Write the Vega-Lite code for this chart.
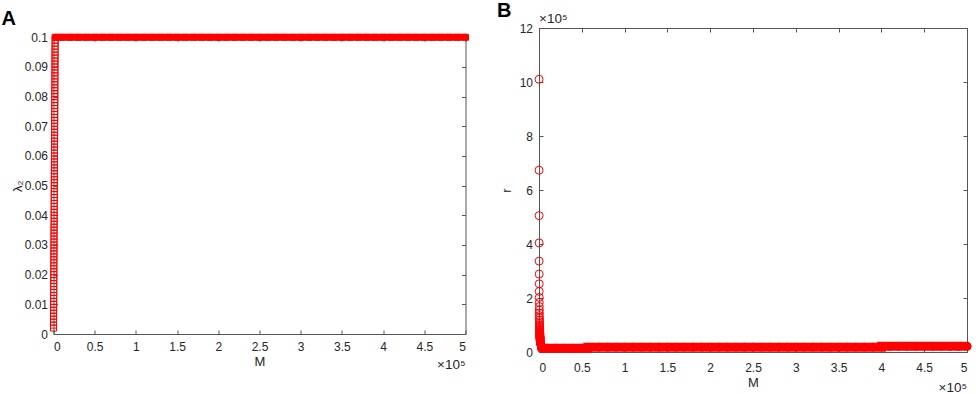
{
"$schema": "https://vega.github.io/schema/vega-lite/v6.json",
"background": "white",
"padding": {"left": 1.5, "top": 1, "right": 0, "bottom": 0},
"spacing": 17.5,
"datasets": {
"lv": [{"M":20,"l":0.002},{"M":40,"l":0.003},{"M":60,"l":0.004},{"M":80,"l":0.005},{"M":100,"l":0.006},{"M":120,"l":0.007},{"M":140,"l":0.008},{"M":160,"l":0.009},{"M":180,"l":0.010},{"M":200,"l":0.011},{"M":220,"l":0.012},{"M":240,"l":0.013},{"M":260,"l":0.014},{"M":280,"l":0.015},{"M":300,"l":0.016},{"M":320,"l":0.017},{"M":340,"l":0.018},{"M":360,"l":0.019},{"M":380,"l":0.020},{"M":400,"l":0.021},{"M":420,"l":0.022},{"M":440,"l":0.023},{"M":460,"l":0.024},{"M":480,"l":0.025},{"M":500,"l":0.026},{"M":520,"l":0.027},{"M":540,"l":0.028},{"M":560,"l":0.029},{"M":580,"l":0.030},{"M":600,"l":0.031},{"M":620,"l":0.032},{"M":640,"l":0.033},{"M":660,"l":0.034},{"M":680,"l":0.035},{"M":700,"l":0.036},{"M":720,"l":0.037},{"M":740,"l":0.038},{"M":760,"l":0.039},{"M":780,"l":0.040},{"M":800,"l":0.041},{"M":820,"l":0.042},{"M":840,"l":0.043},{"M":860,"l":0.044},{"M":880,"l":0.045},{"M":900,"l":0.046},{"M":920,"l":0.047},{"M":940,"l":0.048},{"M":960,"l":0.049},{"M":980,"l":0.050},{"M":1000,"l":0.051},{"M":1020,"l":0.052},{"M":1040,"l":0.053},{"M":1060,"l":0.054},{"M":1080,"l":0.055},{"M":1100,"l":0.056},{"M":1120,"l":0.057},{"M":1140,"l":0.058},{"M":1160,"l":0.059},{"M":1180,"l":0.060},{"M":1200,"l":0.061},{"M":1220,"l":0.062},{"M":1240,"l":0.063},{"M":1260,"l":0.064},{"M":1280,"l":0.065},{"M":1300,"l":0.066},{"M":1320,"l":0.067},{"M":1340,"l":0.068},{"M":1360,"l":0.069},{"M":1380,"l":0.070},{"M":1400,"l":0.071},{"M":1420,"l":0.072},{"M":1440,"l":0.073},{"M":1460,"l":0.074},{"M":1480,"l":0.075},{"M":1500,"l":0.076},{"M":1520,"l":0.077},{"M":1540,"l":0.078},{"M":1560,"l":0.079},{"M":1580,"l":0.080},{"M":1600,"l":0.081},{"M":1620,"l":0.082},{"M":1640,"l":0.083},{"M":1660,"l":0.084},{"M":1680,"l":0.085},{"M":1700,"l":0.086},{"M":1720,"l":0.087},{"M":1740,"l":0.088},{"M":1760,"l":0.089},{"M":1780,"l":0.090},{"M":1800,"l":0.091},{"M":1820,"l":0.092},{"M":1840,"l":0.093},{"M":1860,"l":0.094},{"M":1880,"l":0.095},{"M":1900,"l":0.096},{"M":1920,"l":0.097},{"M":1940,"l":0.098},{"M":1960,"l":0.099}],
"lh": [{"M":2000,"l":0.1},{"M":10000,"l":0.1},{"M":20000,"l":0.1},{"M":30000,"l":0.1},{"M":40000,"l":0.1},{"M":50000,"l":0.1},{"M":60000,"l":0.1},{"M":70000,"l":0.1},{"M":80000,"l":0.1},{"M":90000,"l":0.1},{"M":100000,"l":0.1},{"M":110000,"l":0.1},{"M":120000,"l":0.1},{"M":130000,"l":0.1},{"M":140000,"l":0.1},{"M":150000,"l":0.1},{"M":160000,"l":0.1},{"M":170000,"l":0.1},{"M":180000,"l":0.1},{"M":190000,"l":0.1},{"M":200000,"l":0.1},{"M":210000,"l":0.1},{"M":220000,"l":0.1},{"M":230000,"l":0.1},{"M":240000,"l":0.1},{"M":250000,"l":0.1},{"M":260000,"l":0.1},{"M":270000,"l":0.1},{"M":280000,"l":0.1},{"M":290000,"l":0.1},{"M":300000,"l":0.1},{"M":310000,"l":0.1},{"M":320000,"l":0.1},{"M":330000,"l":0.1},{"M":340000,"l":0.1},{"M":350000,"l":0.1},{"M":360000,"l":0.1},{"M":370000,"l":0.1},{"M":380000,"l":0.1},{"M":390000,"l":0.1},{"M":400000,"l":0.1},{"M":410000,"l":0.1},{"M":420000,"l":0.1},{"M":430000,"l":0.1},{"M":440000,"l":0.1},{"M":450000,"l":0.1},{"M":460000,"l":0.1},{"M":470000,"l":0.1},{"M":480000,"l":0.1},{"M":490000,"l":0.1},{"M":500000,"l":0.1}],
"rv": [{"M":60,"r":1010000},{"M":90,"r":673333},{"M":120,"r":505000},{"M":150,"r":404000},{"M":180,"r":336667},{"M":210,"r":288571},{"M":240,"r":252500},{"M":270,"r":224444},{"M":300,"r":202000},{"M":330,"r":183636},{"M":360,"r":168333},{"M":390,"r":155385},{"M":420,"r":144286},{"M":450,"r":134667},{"M":480,"r":126250},{"M":510,"r":118824},{"M":540,"r":112222},{"M":570,"r":106316},{"M":600,"r":101000},{"M":630,"r":96190},{"M":660,"r":91818},{"M":690,"r":87826},{"M":720,"r":84167},{"M":750,"r":80800},{"M":780,"r":77692},{"M":810,"r":74815},{"M":840,"r":72143},{"M":870,"r":69655},{"M":900,"r":67333},{"M":930,"r":65161},{"M":960,"r":63125},{"M":990,"r":61212},{"M":1020,"r":59412},{"M":1050,"r":57714},{"M":1080,"r":56111},{"M":1110,"r":54595},{"M":1140,"r":53158},{"M":1170,"r":51795},{"M":1200,"r":50500},{"M":1260,"r":48095},{"M":1320,"r":45909},{"M":1380,"r":43913},{"M":1440,"r":42083},{"M":1500,"r":40400},{"M":1650,"r":36727},{"M":1800,"r":33667},{"M":1950,"r":31077},{"M":2100,"r":28857},{"M":2250,"r":26933},{"M":2400,"r":25250},{"M":2700,"r":22444},{"M":3000,"r":20200}],
"rh": [{"M":3000,"r":14000},{"M":10000,"r":14000},{"M":20000,"r":14000},{"M":30000,"r":14000},{"M":40000,"r":14000},{"M":50000,"r":14000},{"M":57000,"r":18000},{"M":60000,"r":18000},{"M":70000,"r":18000},{"M":80000,"r":18000},{"M":90000,"r":18000},{"M":100000,"r":18000},{"M":110000,"r":18000},{"M":120000,"r":18000},{"M":130000,"r":18000},{"M":140000,"r":18000},{"M":150000,"r":18000},{"M":160000,"r":18000},{"M":170000,"r":18000},{"M":180000,"r":18000},{"M":190000,"r":18000},{"M":200000,"r":18000},{"M":210000,"r":18000},{"M":220000,"r":18000},{"M":230000,"r":18000},{"M":240000,"r":18000},{"M":250000,"r":18000},{"M":260000,"r":18000},{"M":270000,"r":18000},{"M":280000,"r":18000},{"M":290000,"r":18000},{"M":300000,"r":18000},{"M":310000,"r":18000},{"M":320000,"r":18000},{"M":330000,"r":18000},{"M":340000,"r":18000},{"M":350000,"r":18000},{"M":360000,"r":18000},{"M":370000,"r":18000},{"M":380000,"r":18000},{"M":390000,"r":18000},{"M":400000,"r":21000},{"M":410000,"r":21000},{"M":420000,"r":21000},{"M":430000,"r":21000},{"M":440000,"r":21000},{"M":450000,"r":21000},{"M":460000,"r":21000},{"M":470000,"r":21000},{"M":480000,"r":21000},{"M":490000,"r":21000},{"M":500000,"r":21000}]
},
"config": {
"view": {"stroke": null},
"font": "Liberation Sans",
"axis": {"grid": false, "domainColor": "#555555", "tickColor": "#555555", "labelColor": "#262626", "titleColor": "#262626", "labelFontSize": 12, "titleFontSize": 13, "titleFontWeight": "normal", "tickSize": -4, "labelPadding": 10},
"title": {"fontSize": 20, "fontWeight": "bold", "anchor": "start", "frame": "group", "color": "#000000"}
},
"hconcat": [
{
"width": 412, "height": 306,
"title": {"text": "A", "dx": -52, "offset": -5.3},
"resolve": {"axis": {"x": "independent", "y": "independent"}},
"layer": [
{"data": {"name": "lv"},
 "mark": {"type": "point", "shape": "square", "size": 36, "filled": false, "color": "#ff0000", "strokeWidth": 1, "opacity": 1},
 "encoding": {
  "x": {"field": "M", "type": "quantitative", "scale": {"domain": [0, 500000], "nice": false}, "axis": {"orient": "bottom", "values": [0,50000,100000,150000,200000,250000,300000,350000,400000,450000,500000], "labelExpr": "datum.value/100000", "title": "M", "labelPadding": 11, "titlePadding": 3}},
  "y": {"field": "l", "type": "quantitative", "scale": {"domain": [0, 0.1], "nice": false, "range": [306, 9.3]}, "axis": {"orient": "left", "values": [0,0.01,0.02,0.03,0.04,0.05,0.06,0.07,0.08,0.09,0.1], "format": "~g", "title": "λ₂", "titlePadding": 0}}
 }},
{"data": {"name": "lh"},
 "mark": {"type": "line", "color": "#ff0000", "strokeWidth": 7, "strokeCap": "round"},
 "encoding": {"x": {"field": "M", "type": "quantitative", "axis": null}, "y": {"field": "l", "type": "quantitative", "axis": null}}},
{"data": {"name": "lh"},
 "mark": {"type": "point", "shape": "square", "size": 36, "filled": false, "color": "#ff0000", "strokeWidth": 1, "opacity": 1},
 "encoding": {
  "x": {"field": "M", "type": "quantitative", "axis": {"orient": "top", "labels": false, "title": null, "offset": -9.3, "minExtent": 0, "maxExtent": 0, "values": [0,50000,100000,150000,200000,250000,300000,350000,400000,450000,500000]}},
  "y": {"field": "l", "type": "quantitative", "axis": {"orient": "right", "labels": false, "title": null, "minExtent": 0, "maxExtent": 0, "values": [0,0.01,0.02,0.03,0.04,0.05,0.06,0.07,0.08,0.09,0.1]}}
 }},
{"data": {"values": [{}]},
 "mark": {"type": "text", "text": "×10⁵", "align": "right", "baseline": "middle", "dy": 31, "fontSize": 13.5, "color": "#262626"},
 "encoding": {"x": {"datum": 500000, "type": "quantitative", "axis": null}, "y": {"datum": 0, "type": "quantitative", "axis": null}}}
]
},
{
"width": 428, "height": 324,
"title": {"text": "B", "dx": -42, "offset": -9.3},
"resolve": {"axis": {"x": "independent", "y": "independent"}},
"layer": [
{"data": {"name": "rv"},
 "mark": {"type": "point", "shape": "circle", "size": 64, "filled": false, "color": "#ff0000", "strokeWidth": 1, "opacity": 1},
 "encoding": {
  "x": {"field": "M", "type": "quantitative", "scale": {"domain": [0, 500000], "nice": false}, "axis": {"orient": "bottom", "values": [0,50000,100000,150000,200000,250000,300000,350000,400000,450000,500000], "labelExpr": "datum.value/100000", "title": "M", "labelPadding": 14, "titlePadding": 3}},
  "y": {"field": "r", "type": "quantitative", "scale": {"domain": [0, 1200000], "nice": false}, "axis": {"orient": "left", "values": [0,200000,400000,600000,800000,1000000,1200000], "labelExpr": "datum.value/100000", "title": "r", "titlePadding": 6, "labelPadding": 10.5}}
 }},
{"data": {"name": "rh"},
 "mark": {"type": "line", "color": "#ff0000", "strokeWidth": 9, "strokeCap": "round", "interpolate": "step-after"},
 "encoding": {"x": {"field": "M", "type": "quantitative", "axis": null}, "y": {"field": "r", "type": "quantitative", "axis": null}}},
{"data": {"name": "rh"},
 "mark": {"type": "point", "shape": "circle", "size": 64, "filled": false, "color": "#ff0000", "strokeWidth": 1, "opacity": 1},
 "encoding": {
  "x": {"field": "M", "type": "quantitative", "axis": {"orient": "top", "labels": false, "title": null, "minExtent": 0, "maxExtent": 0, "values": [0,50000,100000,150000,200000,250000,300000,350000,400000,450000,500000]}},
  "y": {"field": "r", "type": "quantitative", "axis": {"orient": "right", "labels": false, "title": null, "minExtent": 0, "maxExtent": 0, "values": [0,200000,400000,600000,800000,1000000,1200000]}}
 }},
{"data": {"values": [{}]},
 "mark": {"type": "text", "text": "×10⁵", "align": "right", "baseline": "middle", "dy": 36, "fontSize": 13.5, "color": "#262626"},
 "encoding": {"x": {"datum": 500000, "type": "quantitative", "axis": null}, "y": {"datum": 0, "type": "quantitative", "axis": null}}},
{"data": {"values": [{}]},
 "mark": {"type": "text", "text": "×10⁵", "align": "left", "baseline": "middle", "dy": -9, "fontSize": 13.5, "color": "#262626"},
 "encoding": {"x": {"datum": 0, "type": "quantitative", "axis": null}, "y": {"datum": 1200000, "type": "quantitative", "axis": null}}}
]
}
]
}
